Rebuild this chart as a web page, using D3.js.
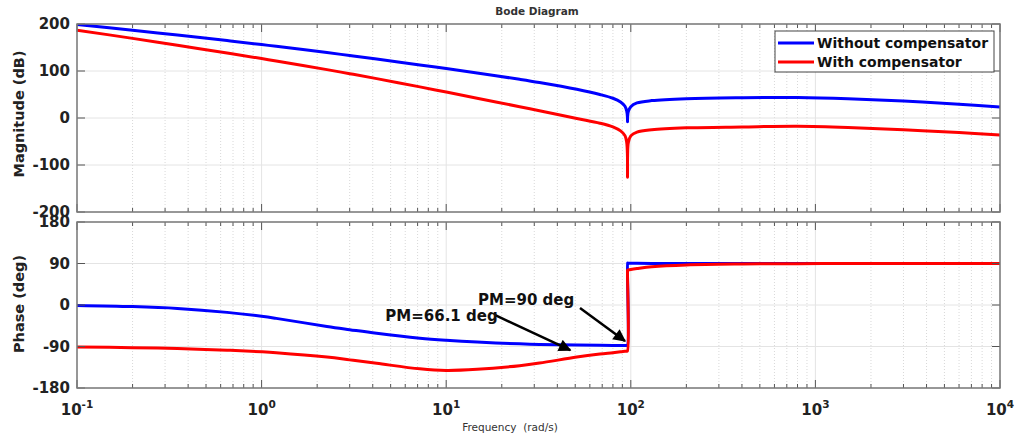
<!DOCTYPE html>
<html>
<head>
<meta charset="utf-8">
<script src="https://cdn.jsdelivr.net/npm/d3@7"></script>
<style>
  body { margin: 0; background: #fff; }
  svg { display: block; }
  text { font-family: "DejaVu Sans", sans-serif; }
</style>
</head>
<body>
<svg id="chart" width="1017" height="436"></svg>
<script>

// frequency points (rad/s)
var freq = [0.1, 0.2, 0.35, 0.65, 1, 1.2, 2.26, 3, 4.2, 7.2, 10, 14.7, 25, 32, 51, 68, 80, 88, 93, 95,
  95.9, 96, 96.1, 97, 100, 108, 130, 200, 400, 800, 1500, 3000, 6000, 10000];

var magWithout = [199, 186.7, 176.5, 164.7, 156.2, 152.5, 139.2, 133, 125.5, 113, 105.2, 95.8, 82.3, 75.5, 61, 50, 42, 34, 25, 15,
  2, -8, 2, 14, 24, 32, 37, 41, 43, 43.5, 41, 36, 29, 23.5];

var magWith = [187, 169.4, 154.8, 138.3, 126.5, 121.3, 102.9, 94.3, 83.8, 66.2, 55.2, 42.2, 24, 15.4, -1, -11, -19, -27.5, -37.5, -51.5,
  -80, -126, -80, -52, -38, -30, -25, -21, -19, -17.5, -20, -25, -31, -36];

var phaseWithout = [-1, -3.5, -7.5, -16, -24.5, -29, -46.5, -53.5, -61.5, -72, -76.5, -80.5, -84.3, -85.4, -86.8, -87.4, -87.7, -87.8, -88, -88,
  -88, 91, 91, 90.5, 90.5, 90.3, 90.2, 90, 90, 90, 90, 90, 90, 90];

var phaseWith = [-91, -92.5, -94.5, -98, -101.5, -103.5, -113, -119, -126.5, -138.5, -142, -139.5, -131.5, -126, -113, -106.5, -103.5, -101.5, -100.5, -100,
  -99.8, 75, 75.5, 76, 77, 79, 83, 87, 89, 89.6, 90, 90, 90, 90];

var magTicks = [-200, -100, 0, 100, 200];
var phaseTicks = [-180, -90, 0, 90, 180];
var decades = [0.1, 1, 10, 100, 1000, 10000];
var decadeExp = ["-1", "0", "1", "2", "3", "4"];

var seriesNames = ["Without compensator", "With compensator"];
var seriesColors = ["#0000ff", "#ff0000"];

// phase margin notes: tip in data units, tail / text offsets in px
var notes = [
  { text: "PM=66.1 deg", w: 47, p: -98, tail: [-75, -35], label: [-185, -29] },
  { text: "PM=90 deg", w: 93, p: -78, tail: [-45, -33], label: [-147, -36] }
];

var svg = d3.select("#chart");
var left = 77, right = 1000;

var x = d3.scaleLog().domain([0.1, 10000]).range([left, right]);
var yMag = d3.scaleLinear().domain([-200, 200]).range([212, 24]);
var yPhase = d3.scaleLinear().domain([-180, 180]).range([388, 222]);

var minor = [];
decades.slice(0, -1).forEach(function(d) {
  for (var k = 2; k < 10; k++) minor.push(d * k);
});

svg.append("defs").selectAll("clipPath")
  .data([["clipMag", yMag], ["clipPhase", yPhase]])
  .enter().append("clipPath")
  .attr("id", function(d) { return d[0]; })
  .append("rect")
  .attr("x", left).attr("width", right - left)
  .attr("y", function(d) { return d[1].range()[1]; })
  .attr("height", function(d) { return d[1].range()[0] - d[1].range()[1]; });

function panel(y, ticks, values, clipId, label, labelY) {
  var g = svg.append("g");
  var top = y.range()[1], bottom = y.range()[0];

  // grid
  g.selectAll(".minor").data(minor).enter().append("line")
    .attr("x1", x).attr("x2", x).attr("y1", top).attr("y2", bottom)
    .attr("stroke", "#d8d8d8").attr("stroke-dasharray", "1,2");
  g.selectAll(".major").data(decades).enter().append("line")
    .attr("x1", x).attr("x2", x).attr("y1", top).attr("y2", bottom)
    .attr("stroke", "#e4e4e4");
  g.selectAll(".hgrid").data(ticks).enter().append("line")
    .attr("x1", left).attr("x2", right).attr("y1", y).attr("y2", y)
    .attr("stroke", "#e4e4e4");

  // curves
  var line = d3.line()
    .x(function(d, i) { return x(freq[i]); })
    .y(function(d) { return y(d); })
    .curve(d3.curveCatmullRom.alpha(0.5));
  g.append("g").attr("clip-path", "url(#" + clipId + ")")
    .selectAll("path").data(values).enter().append("path")
    .attr("d", line)
    .attr("fill", "none")
    .attr("stroke", function(d, i) { return seriesColors[i]; })
    .attr("stroke-width", 3);

  // ticks, all four sides, pointing inward
  var tk = g.append("g").attr("stroke", "#555").attr("stroke-width", 1);
  [[decades, 8], [minor, 4]].forEach(function(t) {
    tk.selectAll(null).data(t[0]).enter().append("line")
      .attr("x1", x).attr("x2", x).attr("y1", bottom).attr("y2", bottom - t[1]);
    tk.selectAll(null).data(t[0]).enter().append("line")
      .attr("x1", x).attr("x2", x).attr("y1", top).attr("y2", top + t[1]);
  });
  tk.selectAll(null).data(ticks).enter().append("line")
    .attr("x1", left).attr("x2", left + 8).attr("y1", y).attr("y2", y);
  tk.selectAll(null).data(ticks).enter().append("line")
    .attr("x1", right).attr("x2", right - 8).attr("y1", y).attr("y2", y);

  g.append("rect")
    .attr("x", left).attr("y", top)
    .attr("width", right - left).attr("height", bottom - top)
    .attr("fill", "none").attr("stroke", "#7a7a7a").attr("stroke-width", 1.5);

  g.selectAll(".ylab").data(ticks).enter().append("text")
    .attr("x", left - 7).attr("y", y).attr("dy", "0.36em")
    .attr("text-anchor", "end")
    .attr("font-size", 15).attr("font-weight", "bold").attr("fill", "#222")
    .text(function(d) { return d; });

  g.append("text")
    .attr("transform", "translate(24," + labelY + ") rotate(-90)")
    .attr("text-anchor", "middle")
    .attr("font-size", 14.5).attr("font-weight", "bold").attr("fill", "#222")
    .text(label);
}

panel(yMag, magTicks, [magWithout, magWith], "clipMag", "Magnitude (dB)", 114);
panel(yPhase, phaseTicks, [phaseWithout, phaseWith], "clipPhase", "Phase (deg)", 304);

// x tick labels 10^n
var xl = svg.selectAll(".xlab").data(decades).enter().append("text")
  .attr("x", x).attr("y", 415)
  .attr("text-anchor", "middle")
  .attr("font-size", 15).attr("font-weight", "bold").attr("fill", "#222");
xl.append("tspan").text("10");
xl.append("tspan").attr("dy", -7).attr("font-size", 10.5)
  .text(function(d, i) { return decadeExp[i]; });

svg.append("text")
  .attr("x", 510).attr("y", 431)
  .attr("text-anchor", "middle")
  .attr("font-family", "Liberation Sans, Arial, sans-serif")
  .attr("font-size", 10.5).attr("fill", "#333")
  .style("white-space", "pre")
  .text("Frequency  (rad/s)");

svg.append("text")
  .attr("x", 537).attr("y", 15)
  .attr("text-anchor", "middle")
  .attr("font-size", 10.5).attr("font-weight", "bold").attr("fill", "#333")
  .text("Bode Diagram");

// legend
var lg = svg.append("g").attr("transform", "translate(775,31)");
lg.append("rect").attr("width", 219).attr("height", 41)
  .attr("fill", "#fff").attr("stroke", "#444").attr("stroke-width", 1);
var items = lg.selectAll(".item").data(seriesNames).enter().append("g")
  .attr("transform", function(d, i) { return "translate(0," + (12 + i * 19) + ")"; });
items.append("line")
  .attr("x1", 3).attr("x2", 39).attr("y1", 0).attr("y2", 0)
  .attr("stroke", function(d, i) { return seriesColors[i]; })
  .attr("stroke-width", 3);
items.append("text")
  .attr("x", 42).attr("y", 0).attr("dy", "0.36em")
  .attr("font-size", 14).attr("font-weight", "bold").attr("fill", "#111")
  .text(function(d) { return d; });

// phase margin arrows
svg.append("defs").append("marker")
  .attr("id", "head")
  .attr("viewBox", "0 0 10 10")
  .attr("refX", 9).attr("refY", 5)
  .attr("markerWidth", 6).attr("markerHeight", 5)
  .attr("markerUnits", "strokeWidth")
  .attr("orient", "auto")
  .append("path").attr("d", "M0,0L10,5L0,10z").attr("fill", "#000");

var ng = svg.selectAll(".note").data(notes).enter().append("g");
ng.append("line")
  .attr("x1", function(d) { return x(d.w) + d.tail[0]; })
  .attr("y1", function(d) { return yPhase(d.p) + d.tail[1]; })
  .attr("x2", function(d) { return x(d.w); })
  .attr("y2", function(d) { return yPhase(d.p); })
  .attr("stroke", "#000").attr("stroke-width", 2.5)
  .attr("marker-end", "url(#head)");
ng.append("text")
  .attr("x", function(d) { return x(d.w) + d.label[0]; })
  .attr("y", function(d) { return yPhase(d.p) + d.label[1]; })
  .attr("font-size", 15).attr("font-weight", "bold").attr("fill", "#111")
  .text(function(d) { return d.text; });

</script>
</body>
</html>
